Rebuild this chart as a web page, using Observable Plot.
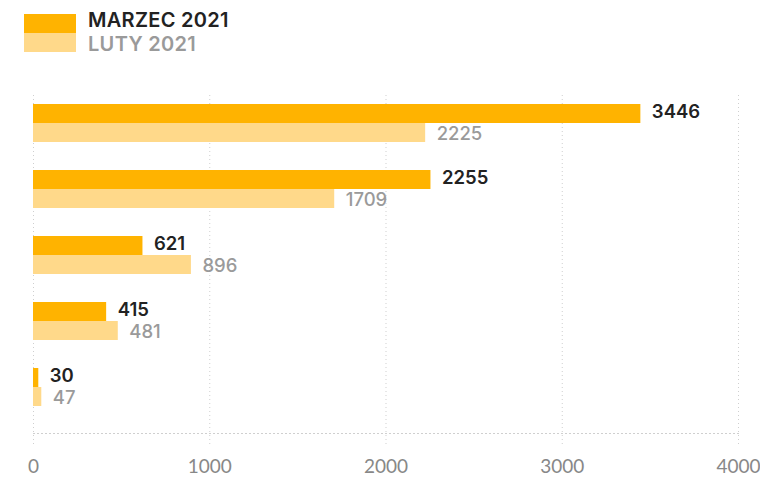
<!DOCTYPE html>
<html>
<head>
<meta charset="utf-8">
<script src="https://cdn.jsdelivr.net/npm/d3@7"></script>
<script src="https://cdn.jsdelivr.net/npm/@observablehq/plot@0.6"></script>
<style>
  html, body { margin: 0; padding: 0; background: #fff; }
  #wrap { position: relative; width: 760px; height: 480px; font-family: Inter, "Open Sans", sans-serif; }
  .sw { position: absolute; left: 24px; width: 52px; height: 19px; }
  .lt { position: absolute; left: 88px; font-size: 20px; line-height: 22px; font-weight: 600; letter-spacing: 0.3px; white-space: nowrap; }
</style>
</head>
<body>
<div id="wrap">
  <div id="legend"></div>
  <div id="chart"></div>
</div>
<script>
const categories = ["1", "2", "3", "4", "5"];
const seriesNames = ["MARZEC 2021", "LUTY 2021"];
const marzec = [3446, 2255, 621, 415, 30];
const luty = [2225, 1709, 896, 481, 47];
const xTicks = [0, 1000, 2000, 3000, 4000];

const colors = ["#FFB300", "#FFD98A"];
const textColors = ["#222222", "#9a9a9a"];

const legend = document.getElementById("legend");
const swatchTops = [14, 33];
const textTops = [9, 33];
seriesNames.forEach((name, i) => {
  const sw = document.createElement("div");
  sw.className = "sw";
  sw.style.top = swatchTops[i] + "px";
  sw.style.background = colors[i];
  legend.appendChild(sw);
  const lt = document.createElement("div");
  lt.className = "lt";
  lt.style.top = textTops[i] + "px";
  lt.style.color = textColors[i];
  lt.textContent = name;
  legend.appendChild(lt);
});

const dataM = categories.map((c, i) => ({cat: c, value: marzec[i]}));
const dataL = categories.map((c, i) => ({cat: c, value: luty[i]}));

const chart = Plot.plot({
  width: 760,
  height: 480,
  marginLeft: 33,
  marginRight: 22,
  marginTop: 95,
  marginBottom: 47,
  style: {fontFamily: "Inter, Open Sans, sans-serif", background: "transparent", overflow: "visible"},
  x: {domain: [0, 4000], ticks: xTicks, label: null},
  y: {domain: categories, paddingInner: 0.424, paddingOuter: 0.272, align: 0.25, axis: null, label: null},
  marks: [
    Plot.ruleX(xTicks, {stroke: "#cfcfcf", strokeDasharray: "1,3", strokeWidth: 1, insetBottom: -12}),
    Plot.frame({anchor: "bottom", stroke: "#cfcfcf", strokeDasharray: "1,3"}),
    Plot.barX(dataM, {x: "value", y: "cat", fill: colors[0], insetBottom: 19}),
    Plot.barX(dataL, {x: "value", y: "cat", fill: colors[1], insetTop: 19}),
    Plot.text(dataM, {x: "value", y: "cat", text: d => String(d.value), dx: 11, dy: -11, textAnchor: "start", fill: textColors[0], fontSize: 18.5, fontWeight: 600, fontFamily: "Inter"}),
    Plot.text(dataL, {x: "value", y: "cat", text: d => String(d.value), dx: 11, dy: 11, textAnchor: "start", fill: textColors[1], fontSize: 18.5, fontWeight: 500, fontFamily: "Inter"}),
    Plot.axisX({ticks: xTicks, tickSize: 0, tickPadding: 26, fontSize: 19, fill: "#888888", fontFamily: "Lato", tickFormat: d => String(d)})
  ]
});
document.getElementById("chart").appendChild(chart);
</script>
</body>
</html>
